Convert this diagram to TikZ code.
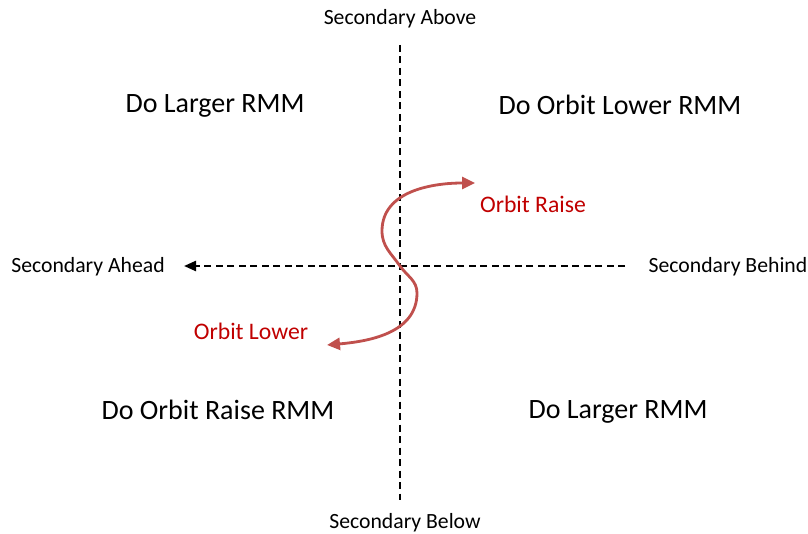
\documentclass[tikz,border=0pt]{standalone}
\usepackage{fontspec}
\setmainfont{Carlito}
\usetikzlibrary{arrows.meta}
\definecolor{curvered}{HTML}{C0504D}
\definecolor{labelred}{HTML}{C00000}
\tikzset{
  axislabel/.style={font=\fontsize{21.7}{26}\selectfont, inner sep=0pt},
  quadrant/.style={font=\fontsize{28}{34}\selectfont, inner sep=0pt},
  movelabel/.style={font=\fontsize{23.7}{28}\selectfont, text=labelred, inner sep=0pt},
  axisline/.style={line width=2.3pt, dash pattern=on 7pt off 4.5pt},
  orbitcurve/.style={line width=2.8pt, draw=curvered,
    arrows={Triangle[length=13pt,width=12pt]-Triangle[length=13pt,width=12pt]}},
}
\begin{document}
\begin{tikzpicture}[x=1pt,y=1pt]
\useasboundingbox (0,0) rectangle (808,533);

% axis ends
\coordinate (vtop) at (400,488);
\coordinate (vbot) at (400,33);
\coordinate (hright) at (625,267);
\coordinate (hleft) at (184,267);

% axis labels
\node[axislabel] (above) at (400,514) {Secondary Above};
\node[axislabel] (below) at (405,10) {Secondary Below};
\node[axislabel] (ahead) at (88,266) {Secondary Ahead};
\node[axislabel] (behind) at (728,266) {Secondary Behind};

% quadrant advice
\node[quadrant] (tl) at (215,427) {Do Larger RMM};
\node[quadrant] (tr) at (620,428) {Do Orbit Lower RMM};
\node[quadrant] (bl) at (218,123) {Do Orbit Raise RMM};
\node[quadrant] (br) at (618,121) {Do Larger RMM};

% axes
\draw[axisline] (vtop) -- (vbot);
\draw[axisline, -{Triangle[length=12pt,width=10pt]}] (hright) -- (hleft);

% manoeuvre path
\coordinate (lowtip) at (327,188);
\coordinate (rightmost) at (417,240);
\coordinate (centre) at (400,267);
\coordinate (leftmost) at (382,302);
\coordinate (hightip) at (475,350);
\draw[orbitcurve] (lowtip) to[out=5,in=-90] (rightmost)
  to[out=90,in=-55] (centre)
  to[out=125,in=-90] (leftmost)
  to[out=90,in=180] (hightip);

\node[movelabel] (raise) at (533,329) {Orbit Raise};
\node[movelabel] (lower) at (251,202) {Orbit Lower};
\end{tikzpicture}
\end{document}
